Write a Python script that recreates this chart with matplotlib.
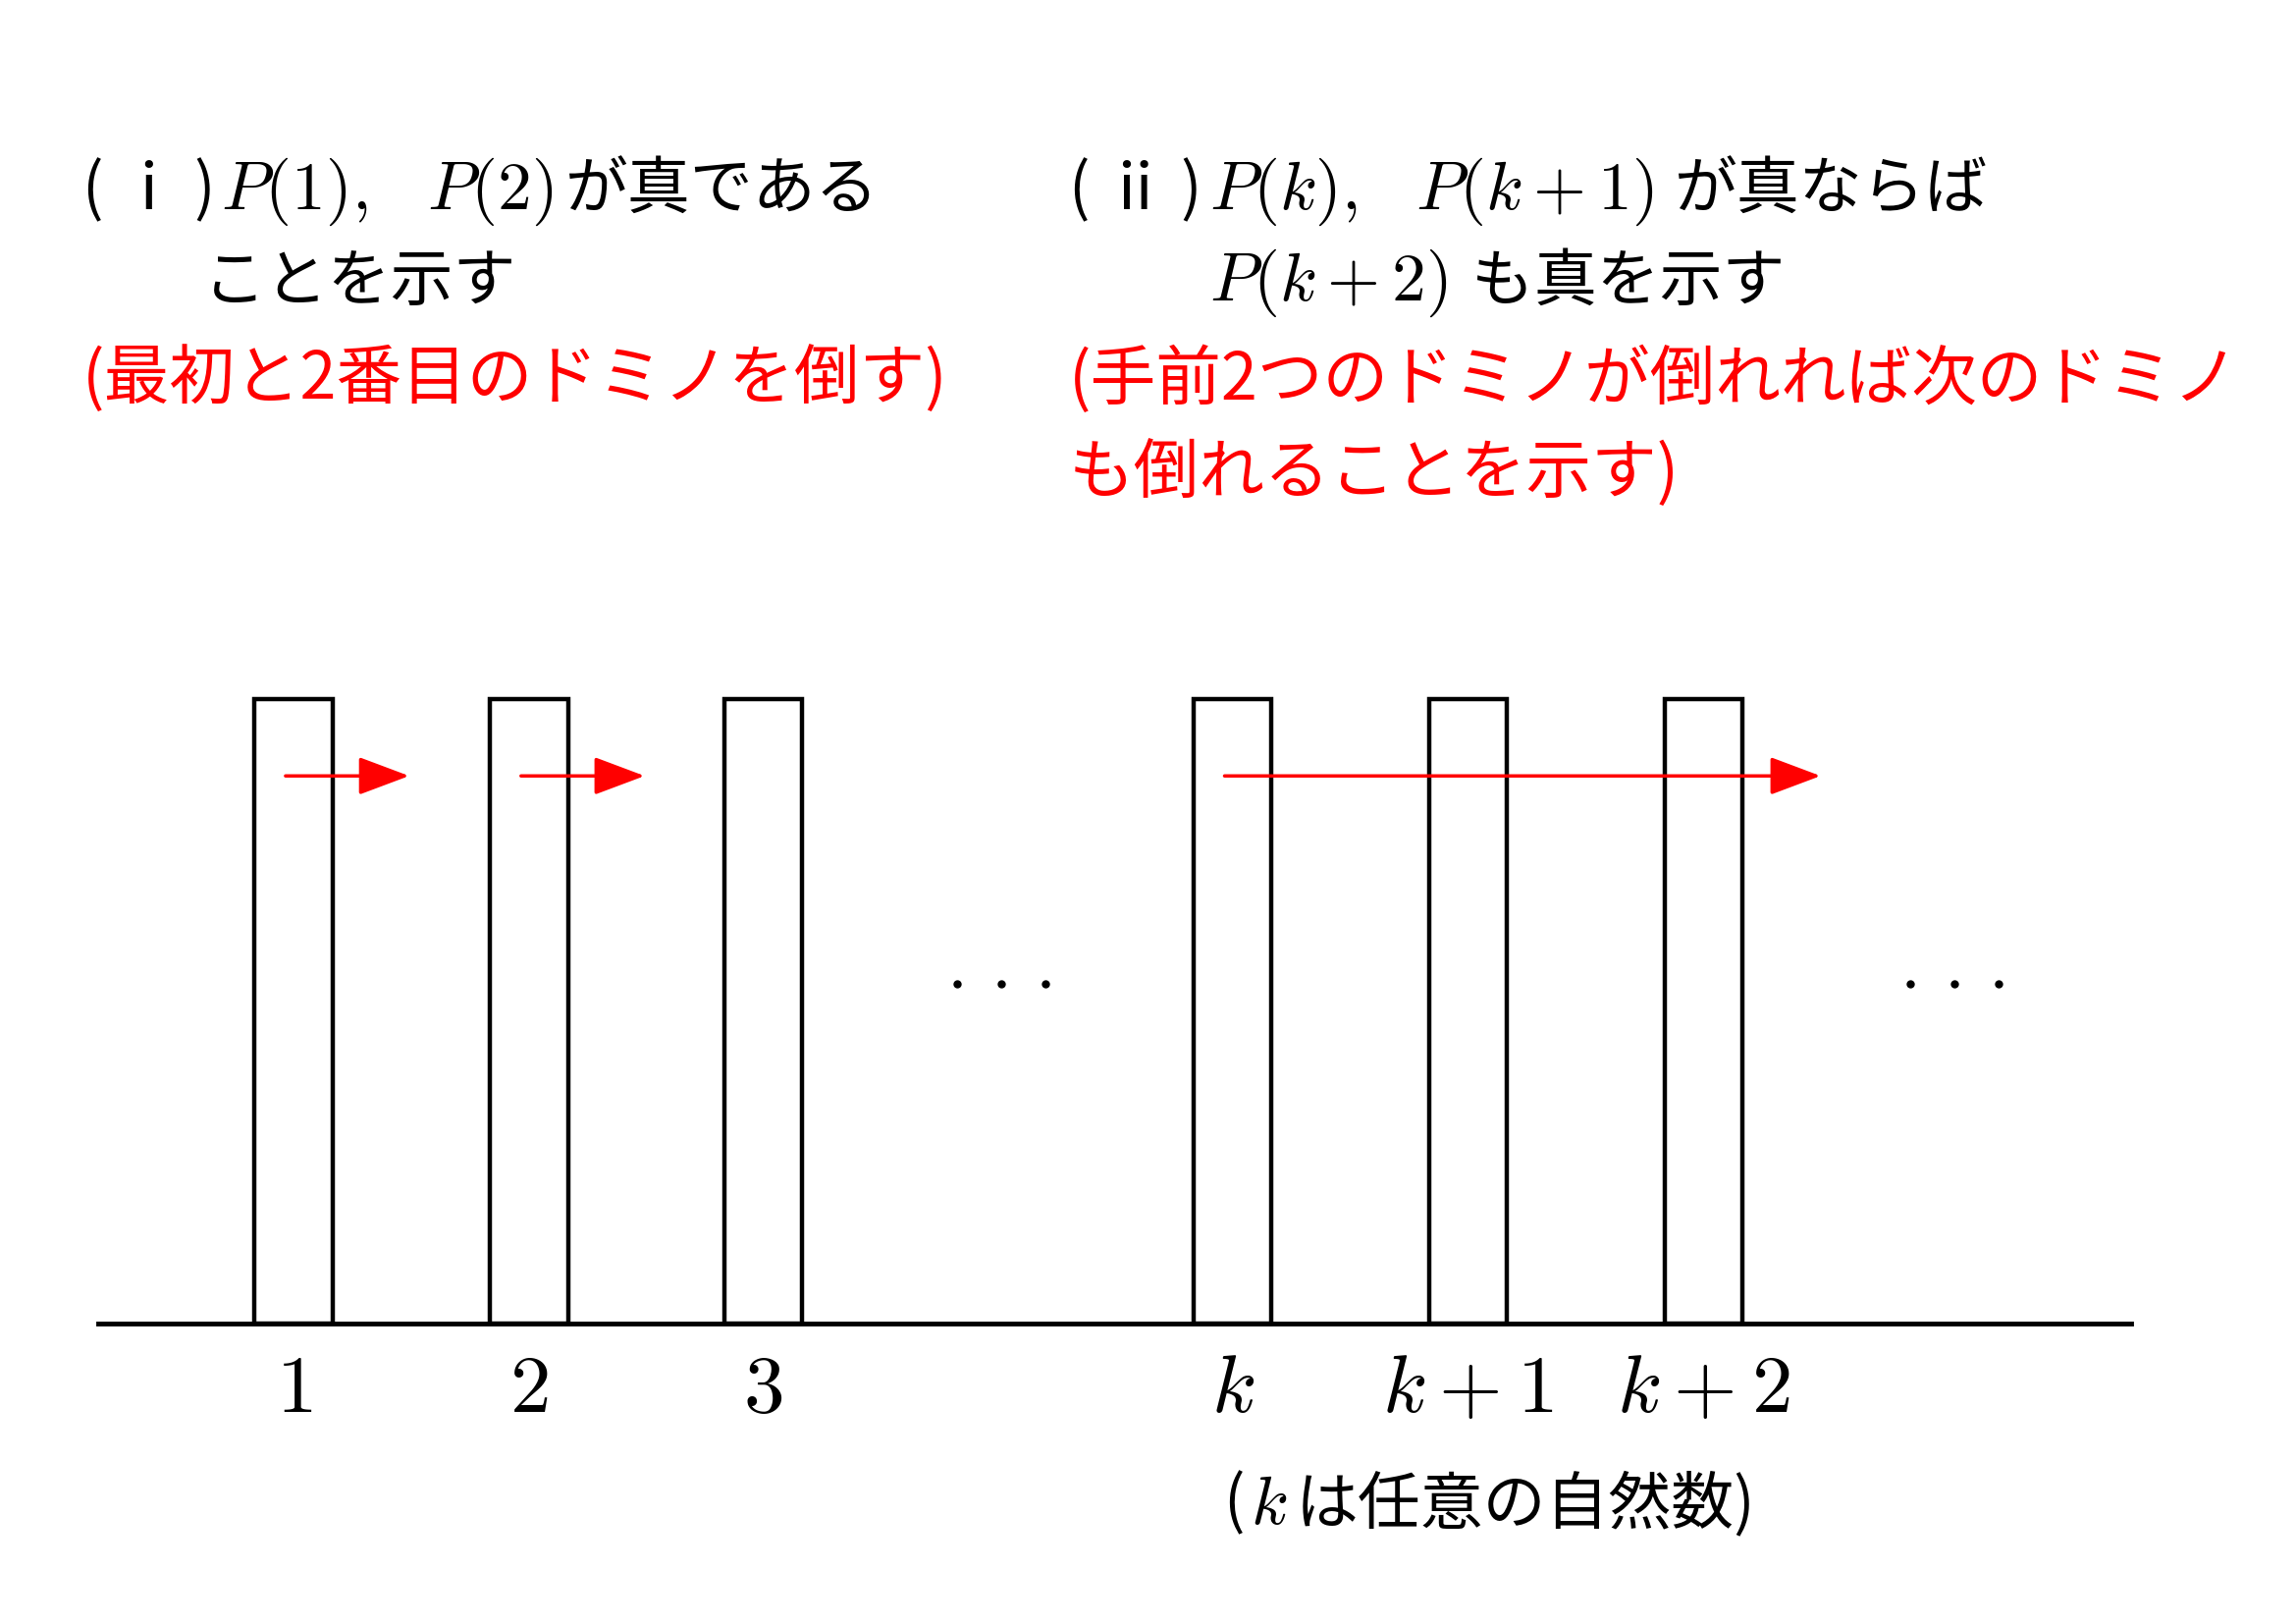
import matplotlib
matplotlib.use("Agg")
import matplotlib.pyplot as plt
from matplotlib.patches import Rectangle, FancyArrowPatch

plt.rcParams['mathtext.fontset'] = 'cm'
JP = ['Noto Sans CJK JP', 'DejaVu Sans']

# domino left edges (picture units, 1560 x 1103 canvas)
domino_x = [173, 333, 492, 811, 971, 1131]
domino_labels = ['$1$', '$2$', '$3$', '$k$', '$k+1$', '$k+2$']
domino_w, top, ground = 53, 475, 899
arrows = [(194, 278), (354, 438), (832, 1237)]
dots_x = [680, 1328]

fig = plt.figure(figsize=(23.39, 16.54), dpi=100)
ax = fig.add_axes([0, 0, 1, 1])
ax.set_xlim(0, 1560)
ax.set_ylim(1103, 0)
ax.axis('off')

ax.plot([67, 1448], [ground, ground], color='black', lw=3.5)
for x, lab in zip(domino_x, domino_labels):
    ax.add_patch(Rectangle((x, top), domino_w, ground - top, fill=False,
                           ec='black', lw=3.2))
    ax.text(x + domino_w / 2, 943, lab, fontsize=60, ha='center', va='center')
for x0, x1 in arrows:
    ax.add_patch(FancyArrowPatch((x0, 527), (x1, 527), color='red', lw=2.5,
                                 arrowstyle='-|>,head_length=1.6,head_width=0.6',
                                 mutation_scale=20, shrinkA=0, shrinkB=0))
for x in dots_x:
    for dx in (-30, 0, 30):
        ax.plot(x + dx, 668, 'o', color='black', ms=5)

def jp(x, y, s, c='black', fs=46):
    ax.text(x, y, s, fontsize=fs, ha='left', va='center', family=JP, color=c)

def m(x, y, s):
    ax.text(x, y, s, fontsize=50, ha='left', va='center')

jp(56, 130, '( ⅰ )')
m(150, 130, '$P(1),$')
m(290, 130, '$P(2)$')
jp(384, 130, 'が真である')
jp(138, 192, 'ことを示す')
jp(56, 258, '(最初と2番目のドミノを倒す)', 'red', 48)

jp(726, 130, '( ⅱ )')
m(822, 130, '$P(k),$')
m(962, 130, '$P(k+1)$')
jp(1138, 130, 'が真ならば')
m(822, 192, '$P(k+2)$')
jp(1000, 192, 'も真を示す')
jp(726, 258, '(手前2つのドミノが倒れれば次のドミノ', 'red', 48)
jp(726, 322, 'も倒れることを示す)', 'red', 48)

jp(831, 1022, '(')
m(850, 1022, '$k$')
jp(880, 1022, 'は任意の自然数)')

fig.savefig('out.png', dpi=100)
